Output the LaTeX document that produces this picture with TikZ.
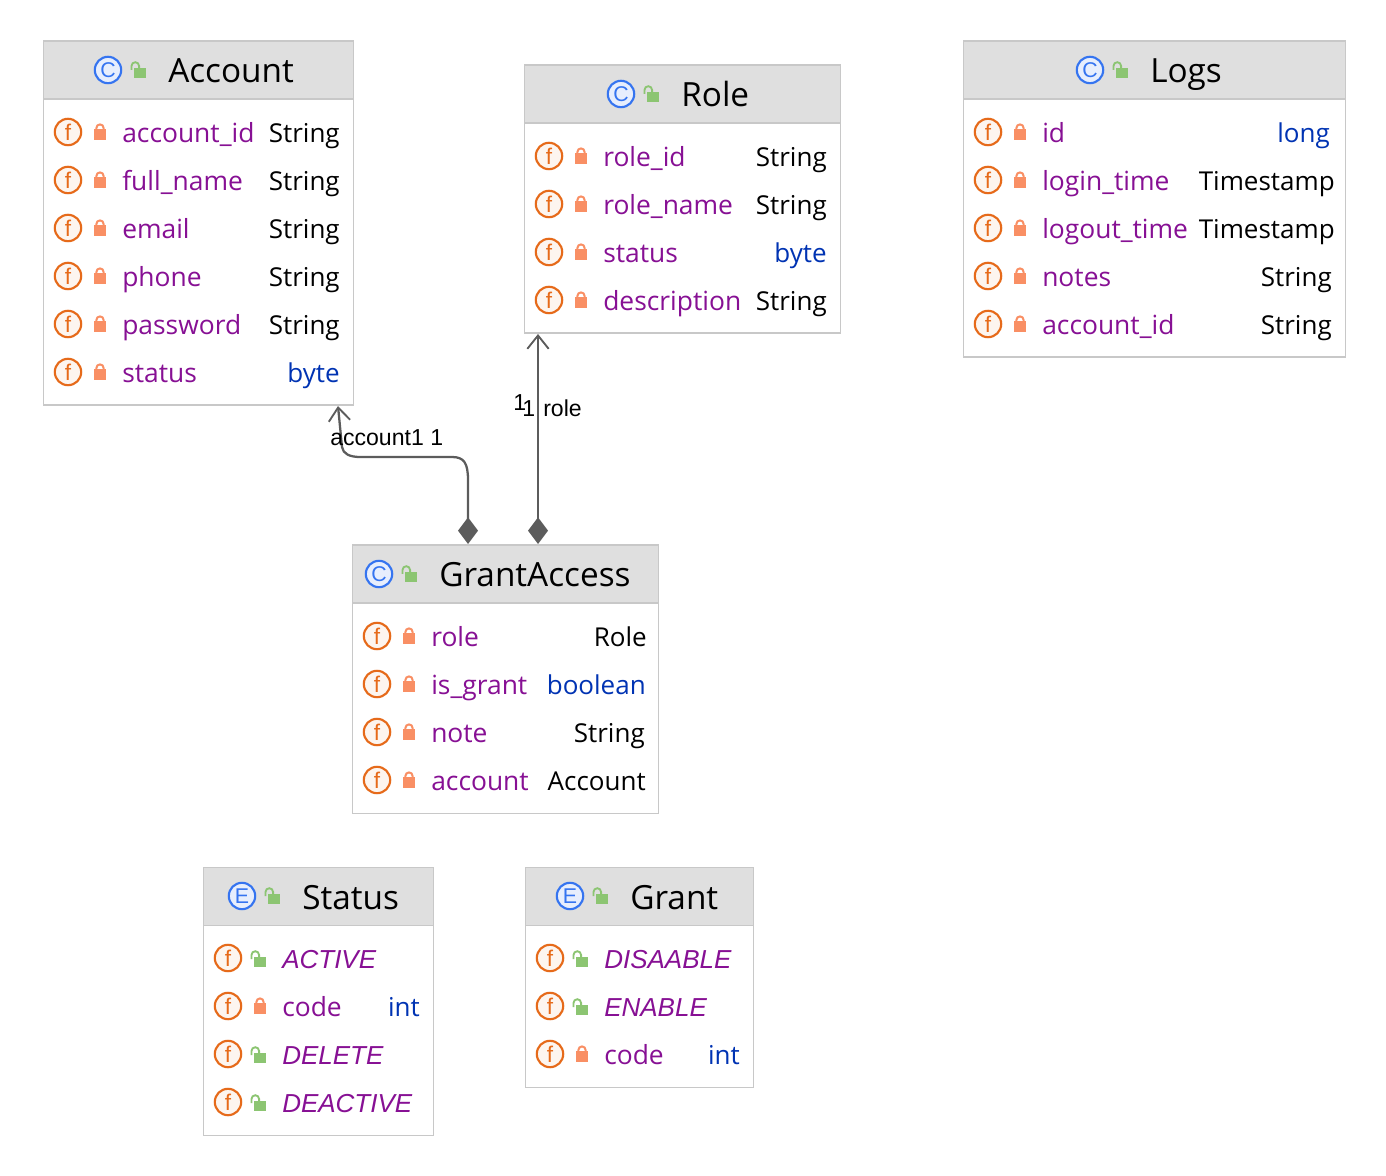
\documentclass[tikz,border=0pt]{standalone}
\usepackage{fontspec}
\setmainfont{Open Sans}
\newfontfamily\labelfont{Liberation Sans}
\usepackage{xcolor}
\usetikzlibrary{arrows.meta}

\definecolor{fieldpurple}{HTML}{871094}
\definecolor{primblue}{HTML}{0033B3}
\definecolor{iconorange}{HTML}{E66A1A}
\definecolor{lockorange}{HTML}{F98F64}
\definecolor{iconblue}{HTML}{3574F0}
\definecolor{opengreen}{HTML}{8CC572}
\definecolor{boxline}{HTML}{C8C8C8}
\definecolor{headfill}{HTML}{DFDFDF}
\definecolor{relgray}{HTML}{5C5C5C}

\tikzset{
  classbox/.style={draw=boxline,line width=1.1pt,fill=white,inner sep=0pt,anchor=north west},
  headbox/.style={draw=boxline,line width=1.1pt,fill=headfill,inner sep=0pt,anchor=north west},
  titletext/.style={anchor=base west,inner sep=0pt,font=\fontsize{25}{25}\selectfont},
  fieldname/.style={anchor=base west,inner sep=0pt,text=fieldpurple,font=\fontsize{19.8}{20}\selectfont},
  constname/.style={fieldname,font=\labelfont\fontsize{19.5}{20}\selectfont\itshape},
  stringtype/.style={anchor=base east,inner sep=0pt,font=\fontsize{19.5}{20}\selectfont},
  primtype/.style={stringtype,text=primblue},
  fieldicon/.style={circle,draw=iconorange,fill=iconorange!7,line width=1.6pt,minimum size=19.8pt,inner sep=0pt,text=iconorange,font=\labelfont\fontsize{17}{17}\selectfont},
  kindicon/.style={circle,draw=iconblue,fill=iconblue!12,line width=1.6pt,minimum size=19.8pt,inner sep=0pt,text=iconblue,font=\labelfont\fontsize{16}{16}\selectfont},
  relation/.style={draw=relgray,line width=1.7pt,{Diamond[length=20pt,width=15pt,fill=relgray]}-{Straight Barb[length=10pt,width=16pt,line width=1.4pt]}},
  rellabel/.style={anchor=base west,inner sep=0pt,font=\labelfont\fontsize{17.3}{17.3}\selectfont},
  pics/lockicon/.style={code={
    \fill[lockorange] (-6,-4) rectangle (6,7);
    \draw[lockorange,line width=1.5pt] (-3.6,-3) -- (-3.6,-5) arc[start angle=180,end angle=360,radius=3.6] -- (3.6,-3);
  }},
  pics/openicon/.style={code={
    \fill[opengreen] (-6,-2) rectangle (6,8);
    \draw[opengreen,line width=1.4pt] (-8.5,0) -- (-8.5,-4) arc[start angle=180,end angle=360,radius=3.8] -- (-0.9,-2);
  }},
}

% box with its grey head: id, x0, y0, x1, y1, head bottom
\newcommand{\classbox}[6]{
  \node[classbox,minimum width={(#4-#2)*0.75pt},minimum height={(#5-#3)*0.75pt}] (#1) at (#2-0.5,#3-0.5) {};
  \node[headbox,minimum width={(#4-#2)*0.75pt},minimum height={(#6-#3)*0.75pt}] (#1-head) at (#2-0.5,#3-0.5) {};
}
% head content: id, letter, icon x, y, title x, title
\newcommand{\classhead}[6]{
  \node[kindicon] (#1-kind) at (#3,#4) {#2};
  \pic at (#3+32,#4) {openicon};
  \node[titletext] (#1-title) at (#5-1,#4+13) {#6};
}
% row: id, x0, x1, y, access icon, name style, name, type style, type
\newcommand{\fieldrow}[9]{
  \node[fieldicon] (#1-f) at (#2+25,#4-1) {f};
  \pic at (#2+57,#4) {#5};
  \node[#6] (#1-name) at (#2+79,#4+9.5) {#7};
  \ifx\relax#9\relax\else\node[#8] (#1-type) at (#3-13,#4+9.5) {#9};\fi
}

\begin{document}
\begin{tikzpicture}[x=0.75pt,y=-0.75pt]
  \useasboundingbox (0,0) rectangle (1386,1176);

  % Account
  \classbox{account}{43}{41}{353}{405}{99}
  \classhead{account}{C}{108}{70}{169}{Account}
  \fieldrow{acc1}{43}{353}{133}{lockicon}{fieldname}{account\_id}{stringtype}{String}
  \fieldrow{acc2}{43}{353}{181}{lockicon}{fieldname}{full\_name}{stringtype}{String}
  \fieldrow{acc3}{43}{353}{229}{lockicon}{fieldname}{email}{stringtype}{String}
  \fieldrow{acc4}{43}{353}{277}{lockicon}{fieldname}{phone}{stringtype}{String}
  \fieldrow{acc5}{43}{353}{325}{lockicon}{fieldname}{password}{stringtype}{String}
  \fieldrow{acc6}{43}{353}{373}{lockicon}{fieldname}{status}{primtype}{byte}

  % Role
  \classbox{role}{524}{65}{840}{333}{123}
  \classhead{role}{C}{621}{94}{682}{Role}
  \fieldrow{rol1}{524}{840}{157}{lockicon}{fieldname}{role\_id}{stringtype}{String}
  \fieldrow{rol2}{524}{840}{205}{lockicon}{fieldname}{role\_name}{stringtype}{String}
  \fieldrow{rol3}{524}{840}{253}{lockicon}{fieldname}{status}{primtype}{byte}
  \fieldrow{rol4}{524}{840}{301}{lockicon}{fieldname}{description}{stringtype}{String}

  % Logs
  \classbox{logs}{963}{41}{1345}{357}{99}
  \classhead{logs}{C}{1090}{70}{1151}{Logs}
  \fieldrow{log1}{963}{1343}{133}{lockicon}{fieldname}{id}{primtype}{long}
  \fieldrow{log2}{963}{1348}{181}{lockicon}{fieldname}{login\_time}{stringtype}{Timestamp}
  \fieldrow{log3}{963}{1348}{229}{lockicon}{fieldname}{logout\_time}{stringtype}{Timestamp}
  \fieldrow{log4}{963}{1345}{277}{lockicon}{fieldname}{notes}{stringtype}{String}
  \fieldrow{log5}{963}{1345}{325}{lockicon}{fieldname}{account\_id}{stringtype}{String}

  % GrantAccess
  \classbox{grantaccess}{352}{545}{658}{813}{603}
  \classhead{grantaccess}{C}{379}{574}{440}{GrantAccess}
  \fieldrow{gra1}{352}{660}{637}{lockicon}{fieldname}{role}{stringtype}{Role}
  \fieldrow{gra2}{352}{659}{685}{lockicon}{fieldname}{is\_grant}{primtype}{boolean}
  \fieldrow{gra3}{352}{658}{733}{lockicon}{fieldname}{note}{stringtype}{String}
  \fieldrow{gra4}{352}{659}{781}{lockicon}{fieldname}{account}{stringtype}{Account}

  % Status
  \classbox{status}{203}{867}{433}{1135}{925}
  \classhead{status}{E}{242}{896}{303}{Status}
  \fieldrow{sta1}{203}{433}{959}{openicon}{constname}{ACTIVE}{stringtype}{}
  \fieldrow{sta2}{203}{433}{1007}{lockicon}{fieldname}{code}{primtype}{int}
  \fieldrow{sta3}{203}{433}{1055}{openicon}{constname}{DELETE}{stringtype}{}
  \fieldrow{sta4}{203}{433}{1103}{openicon}{constname}{DEACTIVE}{stringtype}{}

  % Grant
  \classbox{grant}{525}{867}{753}{1087}{925}
  \classhead{grant}{E}{570}{896}{631}{Grant}
  \fieldrow{gnt1}{525}{753}{959}{openicon}{constname}{DISAABLE}{stringtype}{}
  \fieldrow{gnt2}{525}{753}{1007}{openicon}{constname}{ENABLE}{stringtype}{}
  \fieldrow{gnt3}{525}{753}{1055}{lockicon}{fieldname}{code}{primtype}{int}

  % relations
  \coordinate (ga-acc) at (468,544);
  \coordinate (ga-rol) at (538,544);
  \coordinate (acc-end) at (338,406);
  \coordinate (rol-end) at (538,334);
  \draw[relation] (ga-acc) -- (468,480) .. controls (468,463) and (464,457) .. (452,457)
    -- (360,457) .. controls (350,457) and (343,454) .. (342,447) -- (acc-end);
  \draw[relation] (ga-rol) -- (rol-end);

  \node[rellabel] (acc-name) at (330,446) {account1};
  \node[rellabel] (acc-mult) at (430,446) {1};
  \node[rellabel] (rol-multa) at (513,411) {1};
  \node[rellabel] (rol-multb) at (522,417) {1};
  \node[rellabel] (rol-name) at (543,417) {role};
\end{tikzpicture}
\end{document}
